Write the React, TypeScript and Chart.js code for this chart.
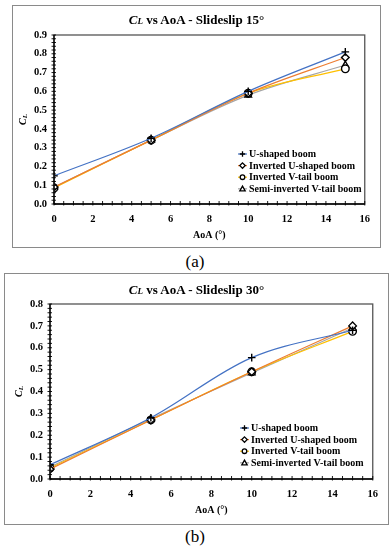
import React, { useEffect, useRef } from "react";
import { Chart, registerables } from "chart.js";

Chart.register(...registerables);

const aoa = [0, 5, 10, 15];
const seriesNames = [
  "U-shaped boom",
  "Inverted U-shaped boom",
  "Inverted V-tail boom",
  "Semi-inverted V-tail boom",
];
const seriesColors = ["#4472C4", "#ED7D31", "#FFC000", "#A5A5A5"];
const markerStyles = ["cross", "rectRot", "circle", "triangle"];

// Slideslip 15°
const uShaped15 = [0.15, 0.35, 0.6, 0.81];
const invertedU15 = [0.09, 0.34, 0.59, 0.78];
const invertedV15 = [0.085, 0.34, 0.59, 0.72];
const semiInvertedV15 = [0.09, 0.34, 0.58, 0.74];

// Slideslip 30°
const uShaped30 = [0.065, 0.28, 0.555, 0.68];
const invertedU30 = [0.045, 0.27, 0.49, 0.7];
const invertedV30 = [0.05, 0.27, 0.49, 0.675];
const semiInvertedV30 = [0.055, 0.275, 0.485, 0.69];

const xTicksMax = 16;
const yMax15 = 0.9;
const yMax30 = 0.8;

const FONT = "'Liberation Serif', 'Times New Roman', serif";

type Geo = {
  w: number;
  h: number;
  top: number;
  right: number;
  leftW: number;
  bottomH: number;
  legendX: number;
  legendY: number;
};

function drawMarker(ctx: CanvasRenderingContext2D, style: string, x: number, y: number, r: number) {
  ctx.save();
  ctx.strokeStyle = "#000";
  ctx.fillStyle = "#fff";
  ctx.lineWidth = 1.3;
  ctx.beginPath();
  if (style === "cross") {
    ctx.moveTo(x - r, y);
    ctx.lineTo(x + r, y);
    ctx.moveTo(x, y - r);
    ctx.lineTo(x, y + r);
    ctx.stroke();
  } else if (style === "rectRot") {
    ctx.moveTo(x, y - r);
    ctx.lineTo(x + r, y);
    ctx.lineTo(x, y + r);
    ctx.lineTo(x - r, y);
    ctx.closePath();
    ctx.fill();
    ctx.stroke();
  } else if (style === "circle") {
    ctx.arc(x, y, r * 0.85, 0, Math.PI * 2);
    ctx.fill();
    ctx.stroke();
  } else {
    ctx.moveTo(x, y - r);
    ctx.lineTo(x + r, y + r * 0.8);
    ctx.lineTo(x - r, y + r * 0.8);
    ctx.closePath();
    ctx.fill();
    ctx.stroke();
  }
  ctx.restore();
}

function CLChart(props: { values: number[][]; yMax: number; geo: Geo }) {
  const ref = useRef<HTMLCanvasElement>(null);
  const { values, yMax, geo } = props;
  useEffect(() => {
    if (!ref.current) return;
    const decor = {
      id: "decor",
      afterDraw(chart: any) {
        const ctx = chart.ctx as CanvasRenderingContext2D;
        const a = chart.chartArea;
        const xs = chart.scales.x;
        const ys = chart.scales.y;
        ctx.save();
        ctx.strokeStyle = "#555";
        ctx.lineWidth = 1.3;
        ctx.strokeRect(a.left, a.top, a.right - a.left, a.bottom - a.top);
        ctx.strokeStyle = "#000";
        ctx.lineWidth = 1.3;
        ctx.beginPath();
        ctx.moveTo(a.left, a.bottom);
        ctx.lineTo(a.right, a.bottom);
        ctx.moveTo(a.left, a.top);
        ctx.lineTo(a.left, a.bottom);
        ctx.stroke();
        ctx.lineWidth = 0.9;
        ctx.beginPath();
        for (let v = 0; v <= xTicksMax + 1e-9; v += 0.5) {
          const px = xs.getPixelForValue(v);
          ctx.moveTo(px, a.bottom - 3);
          ctx.lineTo(px, a.bottom + 1.5);
        }
        for (let v = 0; v <= yMax + 1e-9; v += 0.02) {
          const py = ys.getPixelForValue(v);
          ctx.moveTo(a.left - 2.5, py);
          ctx.lineTo(a.left + 2, py);
        }
        ctx.stroke();
        ctx.fillStyle = "#000";
        ctx.font = `bold 10px ${FONT}`;
        ctx.textAlign = "center";
        ctx.textBaseline = "middle";
        ctx.fillText("AoA (°)", (a.left + a.right) / 2, a.bottom + 31);
        ctx.save();
        ctx.translate(a.left - 31, (a.top + a.bottom) / 2);
        ctx.rotate(-Math.PI / 2);
        ctx.textAlign = "left";
        ctx.font = `italic bold 10px ${FONT}`;
        const cw = ctx.measureText("C").width;
        ctx.font = `italic bold 7px ${FONT}`;
        const lw = ctx.measureText("L").width;
        const start = -(cw + lw) / 2;
        ctx.font = `italic bold 10px ${FONT}`;
        ctx.fillText("C", start, 0);
        ctx.font = `italic bold 7px ${FONT}`;
        ctx.fillText("L", start + cw, 2.5);
        ctx.restore();
        ctx.font = `bold 10px ${FONT}`;
        ctx.textAlign = "left";
        ctx.textBaseline = "middle";
        for (let i = 0; i < seriesNames.length; i++) {
          const ly = geo.legendY + i * 11.6;
          const lx = geo.legendX;
          ctx.strokeStyle = seriesColors[i];
          ctx.lineWidth = 1.2;
          ctx.beginPath();
          ctx.moveTo(lx - 10, ly);
          ctx.lineTo(lx - 1, ly);
          ctx.stroke();
          drawMarker(ctx, markerStyles[i], lx - 5.5, ly, 2.7);
          ctx.fillStyle = "#000";
          ctx.fillText(seriesNames[i], lx + 1, ly + 0.5);
        }
        ctx.restore();
      },
    };
    const chart = new Chart(ref.current, {
      type: "line",
      data: {
        datasets: values.map((vals, i) => ({
          label: seriesNames[i],
          data: aoa.map((x, j) => ({ x, y: vals[j] })),
          borderColor: seriesColors[i],
          borderWidth: 1.2,
          tension: 0.35,
          pointStyle: markerStyles[i] as any,
          pointRadius: 3.8,
          pointBorderColor: "#000",
          pointBackgroundColor: "#fff",
          pointBorderWidth: 1.4,
        })),
      },
      options: {
        animation: false,
        responsive: false,
        events: [],
        layout: { padding: { top: geo.top, right: geo.right, left: 0, bottom: 0 } },
        plugins: { legend: { display: false }, title: { display: false }, tooltip: { enabled: false } },
        scales: {
          x: {
            type: "linear",
            min: 0,
            max: xTicksMax,
            grid: { display: false, drawTicks: false },
            border: { display: false },
            ticks: {
              stepSize: 2,
              padding: 9,
              color: "#000",
              font: { family: FONT, size: 10.5, weight: "bold" },
            },
            afterFit: (s: any) => {
              s.height = geo.bottomH;
            },
          },
          y: {
            type: "linear",
            min: 0,
            max: yMax,
            grid: { display: false, drawTicks: false },
            border: { display: false },
            ticks: {
              stepSize: 0.1,
              padding: 7,
              color: "#000",
              font: { family: FONT, size: 10.5, weight: "bold" },
              callback: (v: any) => Number(v).toFixed(1),
            },
            afterFit: (s: any) => {
              s.width = geo.leftW;
            },
          },
        },
      },
      plugins: [decor],
    });
    return () => chart.destroy();
  }, []);
  return <canvas ref={ref} width={geo.w} height={geo.h} style={{ display: "block" }} />;
}

function Panel(props: {
  left: number;
  top: number;
  width: number;
  height: number;
  slip: string;
  titleTop: number;
  values: number[][];
  yMax: number;
  geo: Geo;
}) {
  const { left, top, width, height, slip, titleTop, values, yMax, geo } = props;
  return (
    <div
      style={{
        position: "absolute",
        left,
        top,
        width,
        height,
        border: "1.5px solid #8a8a8a",
        boxSizing: "border-box",
        background: "#fff",
      }}
    >
      <CLChart values={values} yMax={yMax} geo={geo} />
      <div
        style={{
          position: "absolute",
          left: 0,
          right: 0,
          top: titleTop,
          textAlign: "center",
          fontFamily: FONT,
          fontWeight: "bold",
          fontSize: 13,
          lineHeight: "14px",
          color: "#000",
        }}
      >
        <i>C</i>
        <i style={{ fontSize: 9 }}>L</i> vs AoA - Slideslip {slip}°
      </div>
    </div>
  );
}

export default function App() {
  useEffect(() => {
    document.body.style.margin = "0";
  }, []);
  return (
    <div style={{ position: "relative", width: 390, height: 550, background: "#fff", overflow: "hidden" }}>
      <Panel
        left={12}
        top={5}
        width={369}
        height={243}
        slip="15"
        titleTop={7}
        values={[uShaped15, invertedU15, invertedV15, semiInvertedV15]}
        yMax={yMax15}
        geo={{ w: 366, h: 240, top: 29, right: 9, leftW: 41, bottomH: 42, legendX: 235, legendY: 148 }}
      />
      <div
        style={{
          position: "absolute",
          left: 0,
          width: 390,
          top: 252,
          textAlign: "center",
          fontFamily: FONT,
          fontSize: 17,
          color: "#000",
        }}
      >
        (a)
      </div>
      <Panel
        left={4}
        top={273}
        width={385}
        height={252}
        slip="30"
        titleTop={9}
        values={[uShaped30, invertedU30, invertedV30, semiInvertedV30]}
        yMax={yMax30}
        geo={{ w: 382, h: 249, top: 30, right: 13, leftW: 45, bottomH: 44, legendX: 245, legendY: 154 }}
      />
      <div
        style={{
          position: "absolute",
          left: 0,
          width: 390,
          top: 527,
          textAlign: "center",
          fontFamily: FONT,
          fontSize: 17,
          color: "#000",
        }}
      >
        (b)
      </div>
    </div>
  );
}
